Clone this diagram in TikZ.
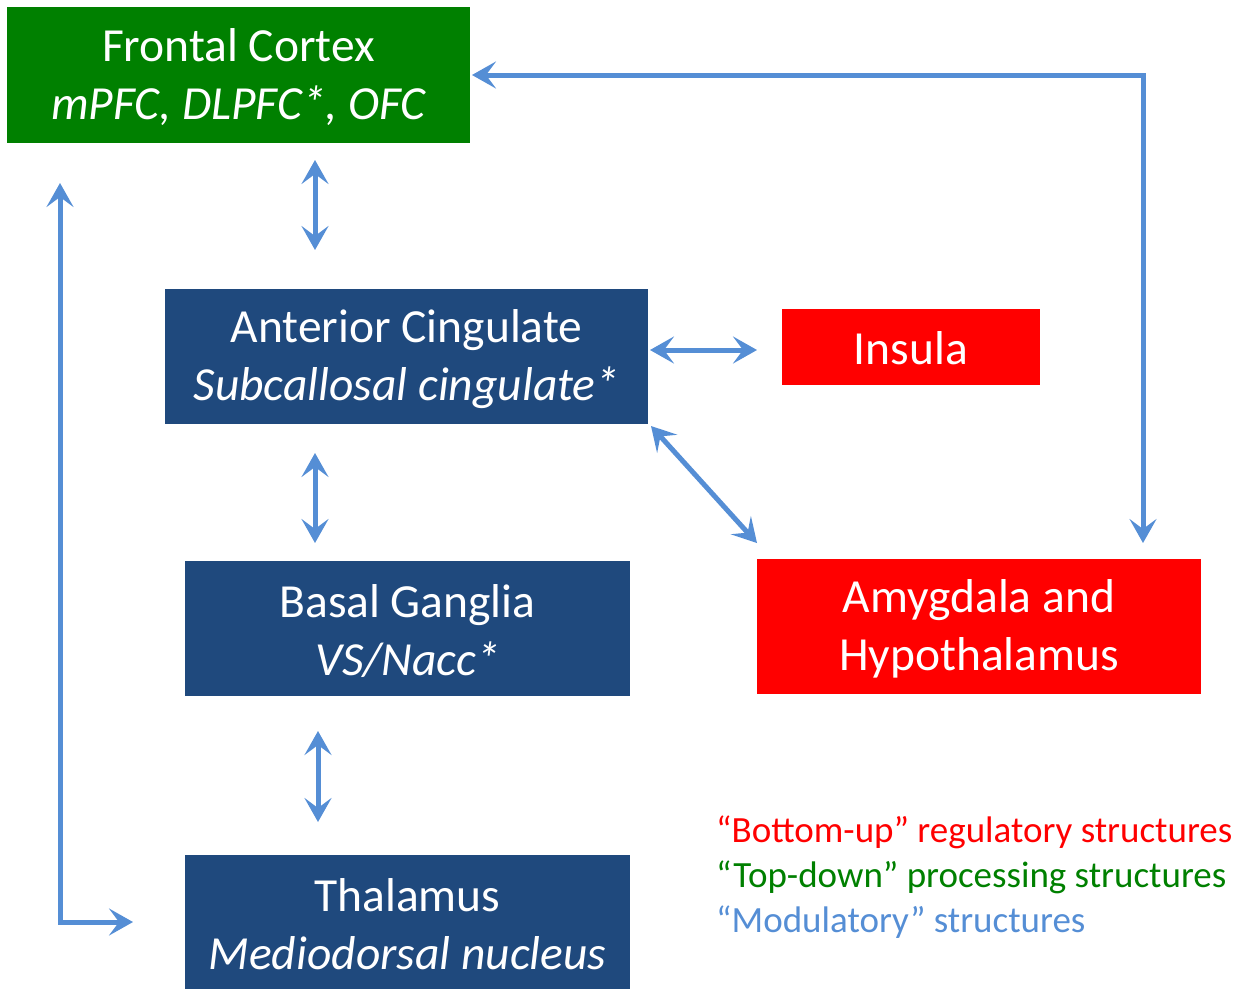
\documentclass[tikz,border=0pt]{standalone}
\usepackage{fontspec}
\setmainfont{Carlito}
\usetikzlibrary{arrows.meta,calc}
\definecolor{fcgreen}{HTML}{008000}
\definecolor{boxblue}{HTML}{1F497D}
\definecolor{arrblue}{HTML}{558ED5}
\definecolor{boxred}{HTML}{FF0000}
\begin{document}
\begin{tikzpicture}[x=1pt,y=-1pt,
  box/.style={draw=none,text=white,align=center,font=\fontsize{47.5}{58}\selectfont,inner sep=0pt},
  conn/.style={draw=arrblue,line width=5pt,
    {Stealth[length=24pt,width=27pt,inset=10pt]}-{Stealth[length=24pt,width=27pt,inset=10pt]}},
  legend/.style={anchor=west,inner sep=0pt,font=\fontsize{37}{40}\selectfont}]
\useasboundingbox (0,0) rectangle (1249,989);
% boxes
\path[fill=fcgreen] (7,7) rectangle (470,143);
\node[box] (fc) at (238.5,77) {Frontal Cortex\\\itshape mPFC, DLPFC*, OFC};
\path[fill=boxblue] (165,289) rectangle (648,424);
\node[box] (ac) at (406.5,359) {Anterior Cingulate\\\itshape Subcallosal cingulate*};
\path[fill=boxred] (782,309) rectangle (1040,385);
\node[box] (ins) at (911,348) {Insula};
\path[fill=boxblue] (185,561) rectangle (630,696);
\node[box] (bg) at (407.5,631) {Basal Ganglia\\\itshape VS/Nacc*};
\path[fill=boxred] (757,559) rectangle (1201,694);
\node[box] (am) at (979,629) {Amygdala and\\Hypothalamus};
\path[fill=boxblue] (185,855) rectangle (630,989);
\node[box] (th) at (407.5,924) {Thalamus\\\itshape Mediodorsal nucleus};
% anchor coordinates for connectors
\coordinate (c1t) at (315,160);
\coordinate (c1b) at (315,250);
\coordinate (c2t) at (315,453);
\coordinate (c2b) at (315,543);
\coordinate (c3t) at (318,731);
\coordinate (c3b) at (318,822);
\coordinate (c4l) at (650,350);
\coordinate (c4r) at (757,350);
\coordinate (c5a) at (651,426);
\coordinate (c5b) at (757,543);
\coordinate (c6a) at (472,75);
\coordinate (c6c) at (1143,75);
\coordinate (c6b) at (1143,543);
\coordinate (c7a) at (60,183);
\coordinate (c7c) at (60,922);
\coordinate (c7b) at (133,922);
% connectors
\draw[conn] (c1t) -- (c1b);
\draw[conn] (c2t) -- (c2b);
\draw[conn] (c3t) -- (c3b);
\draw[conn] (c4l) -- (c4r);
\draw[conn] (c5a) -- (c5b);
\draw[conn] (c6a) -- (c6c) -- (c6b);
\draw[conn] (c7a) -- (c7c) -- (c7b);
% legend
\node[legend,text=boxred] (l1) at (716,832) {“Bottom-up” regulatory structures};
\node[legend,text=fcgreen] (l2) at (716,877) {“Top-down” processing structures};
\node[legend,text=arrblue] (l3) at (716,922) {“Modulatory” structures};
\end{tikzpicture}
\end{document}
